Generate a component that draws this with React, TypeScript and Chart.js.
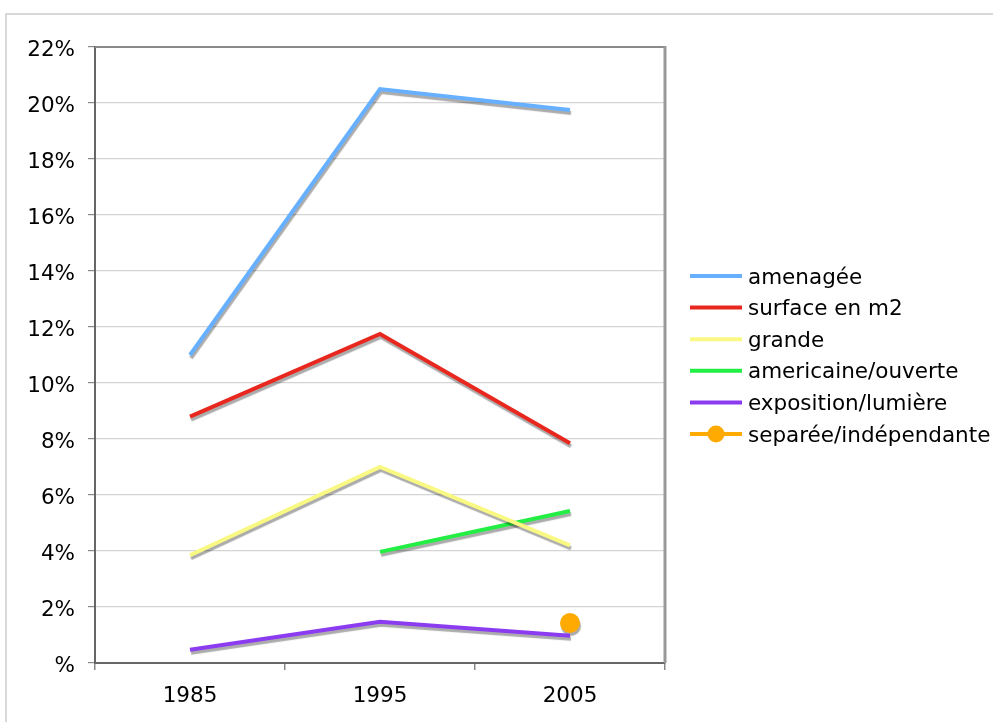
import React, { useEffect, useRef } from "react";
import { Chart, registerables } from "chart.js";

Chart.register(...registerables);

const categories = ["1985", "1995", "2005"];
const seriesNames = [
  "amenagée",
  "surface en m2",
  "grande",
  "americaine/ouverte",
  "exposition/lumière",
  "separée/indépendante",
];
const amenagee = [11.0, 20.5, 19.75];
const surface = [8.8, 11.75, 7.85];
const grande = [3.85, 7.0, 4.2];
const americaine = [null, 3.97, 5.43];
const exposition = [0.47, 1.47, 0.97];
const separee = [null, null, 1.43];
const seriesColors = ["#66b0ff", "#e8281e", "#f8f882", "#22ee44", "#8c3cf0", "#ffaa00"];
const yTickLabels = ["%", "2%", "4%", "6%", "8%", "10%", "12%", "14%", "16%", "18%", "20%", "22%"];

const FONT = "'DejaVu Sans', Verdana, sans-serif";
const FS = 21.5;

const shadowPlugin = {
  id: "shadowPlugin",
  beforeDatasetDraw(chart: any) {
    const ctx = chart.ctx;
    ctx.save();
    ctx.shadowColor = "rgba(0,0,0,0.33)";
    ctx.shadowOffsetX = 1;
    ctx.shadowOffsetY = 3;
    ctx.shadowBlur = 1;
  },
  afterDatasetDraw(chart: any) {
    chart.ctx.restore();
  },
};

const framePlugin = {
  id: "framePlugin",
  beforeDraw(chart: any) {
    const ctx = chart.ctx;
    ctx.save();
    ctx.strokeStyle = "#cccccc";
    ctx.lineWidth = 1.5;
    ctx.beginPath();
    ctx.moveTo(6, 722);
    ctx.lineTo(6, 14);
    ctx.lineTo(993, 14);
    ctx.stroke();
    ctx.restore();
  },
  afterDatasetsDraw(chart: any) {
    const { left, right, top, bottom } = chart.chartArea;
    const ctx = chart.ctx;
    ctx.save();
    ctx.strokeStyle = "#8a8a8a";
    ctx.lineWidth = 2;
    ctx.beginPath();
    ctx.moveTo(left, top);
    ctx.lineTo(right, top);
    ctx.stroke();
    ctx.strokeStyle = "#999999";
    ctx.lineWidth = 3;
    ctx.beginPath();
    ctx.moveTo(right, top - 1);
    ctx.lineTo(right, bottom);
    ctx.stroke();
    ctx.restore();
  },
  afterDraw(chart: any) {
    const ctx = chart.ctx;
    ctx.save();
    const x0 = 690;
    const x1 = 742;
    const y0 = 276;
    const step = 31.6;
    ctx.font = `${FS}px ${FONT}`;
    ctx.textBaseline = "middle";
    ctx.textAlign = "left";
    seriesNames.forEach((name, i) => {
      const y = y0 + i * step;
      ctx.strokeStyle = seriesColors[i];
      ctx.lineWidth = 4;
      ctx.beginPath();
      ctx.moveTo(x0, y);
      ctx.lineTo(x1, y);
      ctx.stroke();
      if (i === 5) {
        ctx.fillStyle = seriesColors[i];
        ctx.beginPath();
        ctx.arc((x0 + x1) / 2, y, 8.5, 0, Math.PI * 2);
        ctx.fill();
      }
      ctx.fillStyle = "#000000";
      ctx.fillText(name, 748, y + 2);
    });
    ctx.restore();
  },
};

export default function App() {
  const ref = useRef<HTMLCanvasElement | null>(null);
  useEffect(() => {
    if (!ref.current) return;
    const data = [amenagee, surface, grande, americaine, exposition, separee];
    const chart = new Chart(ref.current, {
      type: "line",
      data: {
        labels: categories,
        datasets: seriesNames.map((name, i) => ({
          label: name,
          data: data[i],
          borderColor: seriesColors[i],
          backgroundColor: seriesColors[i],
          borderWidth: 4,
          pointRadius: i === 5 ? 10 : 0,
          pointHoverRadius: i === 5 ? 10 : 0,
          pointBorderWidth: 0,
          tension: 0,
          spanGaps: false,
          fill: false,
        })),
      },
      options: {
        responsive: false,
        animation: false,
        events: [],
        layout: { padding: { top: 47, right: 329, bottom: 0, left: 0 } },
        plugins: {
          legend: { display: false },
          tooltip: { enabled: false },
        },
        scales: {
          x: {
            offset: true,
            grid: {
              offset: true,
              drawOnChartArea: false,
              drawTicks: true,
              tickLength: 7,
              color: "#888888",
              lineWidth: 1.5,
            },
            border: { display: true, color: "#666666", width: 2 },
            ticks: {
              color: "#000000",
              font: { family: FONT, size: FS },
              padding: 14,
              maxRotation: 0,
            },
            afterFit(scale: any) {
              scale.height = 59;
            },
          },
          y: {
            min: 0,
            max: 22,
            ticks: {
              stepSize: 2,
              color: "#000000",
              font: { family: FONT, size: FS },
              padding: 13,
              labelOffset: 3,
              callback: (_v: any, idx: number) => yTickLabels[idx],
            },
            grid: {
              color: "#d4d4d4",
              lineWidth: 1.2,
              drawTicks: true,
              tickLength: 7,
              tickColor: "#888888",
            },
            border: { display: true, color: "#666666", width: 2 },
            afterFit(scale: any) {
              scale.width = 95;
            },
          },
        },
      },
      plugins: [shadowPlugin, framePlugin],
    } as any);
    return () => chart.destroy();
  }, []);
  return (
    <div style={{ position: "fixed", left: 0, top: 0, width: 994, height: 722, background: "#fff" }}>
      <canvas ref={ref} width={994} height={722} style={{ display: "block" }} />
    </div>
  );
}
